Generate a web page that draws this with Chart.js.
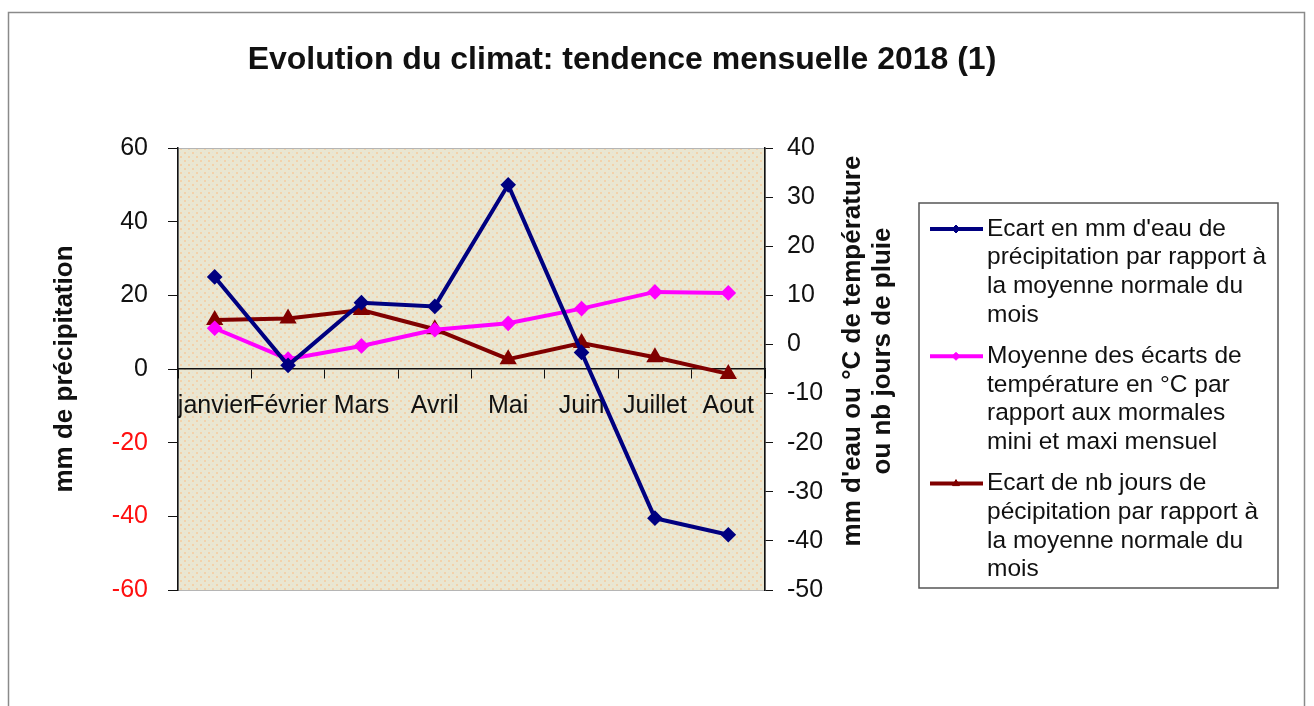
<!DOCTYPE html>
<html>
<head>
<meta charset="utf-8">
<script src="https://cdn.jsdelivr.net/npm/chart.js@4.4.1/dist/chart.umd.min.js"></script>
<style>
  html, body { margin: 0; padding: 0; background: #fff; }
  #wrap { width: 1314px; height: 706px; }
</style>
</head>
<body>
<div id="wrap"><canvas id="climat" width="1314" height="706"></canvas></div>
<script>
const months = ["janvier", "Février", "Mars", "Avril", "Mai", "Juin", "Juillet", "Aout"];

// écart en mm de pluie (axe gauche)
const pluieMm = [25, 1, 18, 17, 50, 4.5, -40.5, -45];
// écart de température en °C (axe droit)
const ecartTemp = [3.3, -3, -0.3, 3, 4.3, 7.3, 10.7, 10.5];
// écart du nombre de jours de pluie (axe droit)
const ecartJours = [5, 5.3, 7, 3.1, -3, 0.3, -2.6, -6];

const leftTicks = [-60, -40, -20, 0, 20, 40, 60];
const rightTicks = [-50, -40, -30, -20, -10, 0, 10, 20, 30, 40];

const legendPluie = ["Ecart en mm d'eau de", "précipitation par rapport à", "la moyenne normale du", "mois"];
const legendTemp = ["Moyenne des écarts de", "température en °C par", "rapport aux mormales", "mini et maxi mensuel"];
const legendJours = ["Ecart de nb jours de", "pécipitation par rapport à", "la moyenne normale du", "mois"];

const rightTitle = ["mm d'eau ou °C de température", "ou nb jours de pluie"];

const FONT = "'Liberation Sans', Arial, sans-serif";

// petit motif pointillé pour le fond de la zone de traçage
function makePattern(ctx) {
  const c = document.createElement("canvas");
  c.width = 8;
  c.height = 8;
  const p = c.getContext("2d");
  p.fillStyle = "#EAE6D1";
  p.fillRect(0, 0, 8, 8);
  p.fillStyle = "#F3D1AA";
  p.fillRect(0, 0, 2, 2);
  p.fillRect(4, 4, 2, 2);
  p.fillStyle = "#E0E3D8";
  p.fillRect(4, 0, 1, 1);
  p.fillRect(0, 4, 1, 1);
  return ctx.createPattern(c, "repeat");
}

const plotBackground = {
  id: "plotBackground",
  beforeDraw(chart) {
    const { ctx, chartArea: a } = chart;
    ctx.save();
    // cadre extérieur
    ctx.strokeStyle = "#8a8a8a";
    ctx.lineWidth = 1.5;
    ctx.strokeRect(8.5, 12.5, 1296, 720);
    ctx.fillStyle = makePattern(ctx);
    ctx.fillRect(a.left, a.top, a.right - a.left, a.bottom - a.top);
    ctx.strokeStyle = "#b5b5b5";
    ctx.lineWidth = 1;
    ctx.strokeRect(a.left + 0.5, a.top + 0.5, a.right - a.left, a.bottom - a.top);
    ctx.restore();
  }
};

const rightAxisTitle = {
  id: "rightAxisTitle",
  afterDraw(chart) {
    const { ctx, chartArea: a } = chart;
    ctx.save();
    ctx.translate(a.right + 88, (a.top + a.bottom) / 2 - 18);
    ctx.rotate(-Math.PI / 2);
    ctx.font = "bold 26px " + FONT;
    ctx.fillStyle = "#111";
    ctx.textAlign = "center";
    ctx.textBaseline = "middle";
    rightTitle.forEach((line, i) => ctx.fillText(line, 0, i * 30));
    ctx.restore();
  }
};

const legendLines = [legendPluie, legendTemp, legendJours];

const sideLegend = {
  id: "sideLegend",
  afterDraw(chart) {
    const { ctx } = chart;
    const x0 = 919, y0 = 203;
    ctx.save();
    ctx.strokeStyle = "#555";
    ctx.lineWidth = 1.5;
    ctx.strokeRect(x0, y0, 359, 385);
    ctx.font = "24.5px " + FONT;
    ctx.textBaseline = "middle";
    let y = 229;
    chart.data.datasets.forEach((ds, i) => {
      ctx.strokeStyle = ds.borderColor;
      ctx.lineWidth = 4;
      ctx.beginPath();
      ctx.moveTo(930, y);
      ctx.lineTo(983, y);
      ctx.stroke();
      ctx.fillStyle = ds.borderColor;
      ctx.lineWidth = 1;
      Chart.helpers.drawPoint(ctx, { pointStyle: ds.pointStyle, radius: 4, borderWidth: 1, rotation: 0 }, 956, y);
      ctx.fillStyle = "#111";
      legendLines[i].forEach((t, j) => ctx.fillText(t, 987, y + j * 28.7));
      y += 4 * 28.7 + 12.5;
    });
    ctx.restore();
  }
};

const tickFont = { family: FONT, size: 25 };

new Chart(document.getElementById("climat"), {
  type: "line",
  data: {
    labels: months,
    datasets: [
      {
        label: legendPluie.join(" "),
        data: pluieMm,
        yAxisID: "y",
        borderColor: "#000080",
        backgroundColor: "#000080",
        borderWidth: 4,
        pointStyle: "rectRot",
        pointRadius: 5,
        tension: 0
      },
      {
        label: legendTemp.join(" "),
        data: ecartTemp,
        yAxisID: "y2",
        borderColor: "#FF00FF",
        backgroundColor: "#FF00FF",
        borderWidth: 4,
        pointStyle: "rectRot",
        pointRadius: 5,
        tension: 0
      },
      {
        label: legendJours.join(" "),
        data: ecartJours,
        yAxisID: "y2",
        borderColor: "#800000",
        backgroundColor: "#800000",
        borderWidth: 4,
        pointStyle: "triangle",
        pointRadius: 6,
        tension: 0
      }
    ]
  },
  options: {
    responsive: false,
    animation: false,
    layout: { padding: { left: 0, right: 70, top: 0, bottom: 116 } },
    plugins: {
      legend: { display: false },
      tooltip: { enabled: false },
      title: {
        display: true,
        text: "Evolution du climat: tendence mensuelle 2018 (1)",
        color: "#111",
        font: { family: FONT, size: 32, weight: "bold", lineHeight: 1.2 },
        padding: { top: 40.8, bottom: 68.8 }
      }
    },
    scales: {
      x: {
        type: "category",
        position: { y: 0 },
        offset: true,
        grid: { offset: true, drawOnChartArea: false, color: "#111", tickLength: 9 },
        border: { color: "#111", width: 1.5 },
        ticks: { color: "#111", font: tickFont, autoSkip: false, maxRotation: 0, minRotation: 0, padding: 13 }
      },
      y: {
        position: "left",
        min: leftTicks[0],
        max: leftTicks[leftTicks.length - 1],
        afterBuildTicks: (s) => { s.ticks = leftTicks.map((v) => ({ value: v })); },
        afterFit: (s) => { s.width = 178; },
        grid: { drawOnChartArea: false, color: "#111", tickLength: 10 },
        border: { color: "#111", width: 1.5 },
        ticks: {
          font: tickFont,
          padding: 20,
          color: (c) => (c.tick.value < 0 ? "#FF1010" : "#111")
        },
        title: {
          display: true,
          text: "mm de précipitation",
          color: "#111",
          font: { family: FONT, size: 26, weight: "bold", lineHeight: 1.2 },
          padding: { top: 49.4, bottom: 0 }
        }
      },
      y2: {
        position: "right",
        min: rightTicks[0],
        max: rightTicks[rightTicks.length - 1],
        afterBuildTicks: (s) => { s.ticks = rightTicks.map((v) => ({ value: v })); },
        afterFit: (s) => { s.width = 479; },
        grid: { drawOnChartArea: false, color: "#111", tickLength: 8 },
        border: { color: "#111", width: 1.5 },
        ticks: { font: tickFont, padding: 14, color: "#111" }
      }
    }
  },
  plugins: [plotBackground, rightAxisTitle, sideLegend]
});
</script>
</body>
</html>
